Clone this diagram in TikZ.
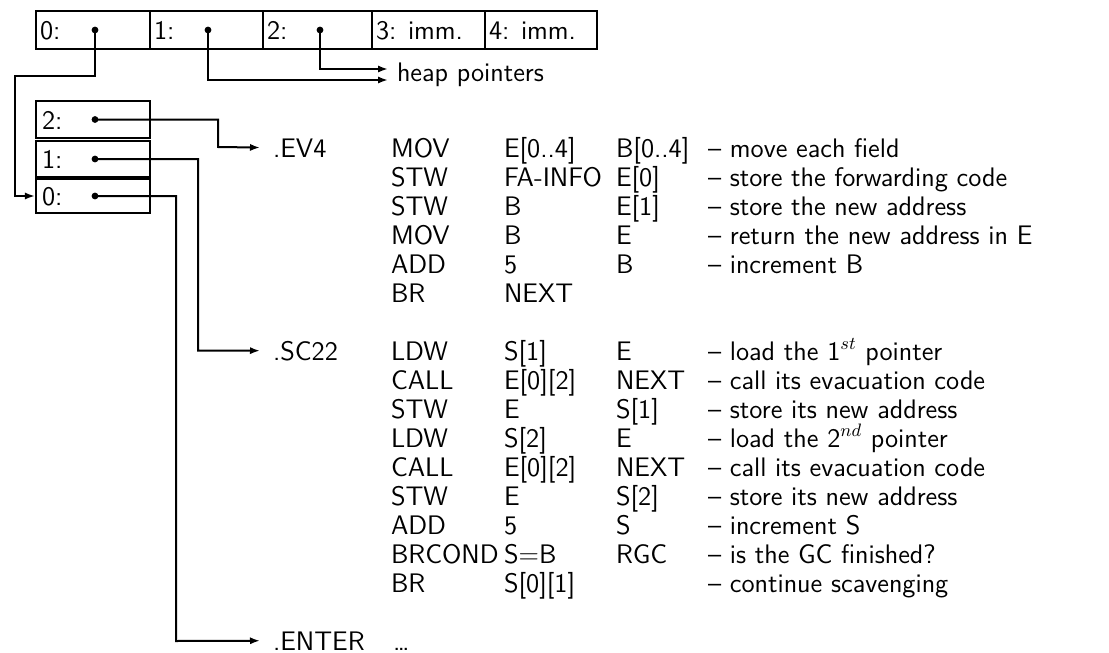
\documentclass[tikz,border=0pt]{standalone}
\usetikzlibrary{arrows.meta}
\begin{document}
\begin{tikzpicture}[x=0.5pt,y=-0.5pt,
  font=\fontsize{13.4}{16}\selectfont\sffamily,
  line width=1pt,
  box/.style={draw,line width=1.1pt,inner sep=0,minimum height=19pt},
  txt/.style={anchor=base west,inner sep=0},
  dot/.style={circle,fill,inner sep=0,minimum size=3.4pt},
  arr/.style={-{Latex[length=5pt,width=3.6pt]}}]
\useasboundingbox (0,0) rectangle (1109,653);
% top record
\node[box,minimum width=57pt] (c0) at (93,30) {};
\node[box,minimum width=56.5pt] (c1) at (206.5,30) {};
\node[box,minimum width=54.5pt] (c2) at (317.5,30) {};
\node[box,minimum width=56.5pt] (c3) at (428.5,30) {};
\node[box,minimum width=56pt] (c4) at (541,30) {};
\node[txt] (l0) at (39,39.5) {0:};
\node[txt] (l1) at (153,39.5) {1:};
\node[txt] (l2) at (266,39.5) {2:};
\node[txt] (l3) at (375,39.5) {3: imm.};
\node[txt] (l4) at (488,39.5) {4: imm.};
\node[dot] (d0) at (95,30) {};
\node[dot] (d1) at (208,30) {};
\node[dot] (d2) at (320,30) {};
\node[txt] (hp) at (396,81) {heap pointers};
\coordinate (h2) at (388,69);
\coordinate (h1) at (388,80);
\draw[arr] (d2.center) |- (h2);
\draw[arr] (d1.center) |- (h1);
% small record
\node[box,minimum width=57pt,minimum height=18.5pt] (b2) at (93,119.5) {};
\node[box,minimum width=57pt,minimum height=18pt] (b1) at (93,159) {};
\node[box,minimum width=57pt,minimum height=17pt] (b0) at (93,196) {};
\node[txt] (s2) at (41,129) {2:};
\node[txt] (s1) at (41,168.5) {1:};
\node[txt] (s0) at (41,205.5) {0:};
\node[dot] (e2) at (95,119.5) {};
\node[dot] (e1) at (95,159) {};
\node[dot] (e0) at (95,196) {};
\coordinate (k0) at (15,76);
\draw[arr] (d0.center) |- (k0) |- (b0.west);
% labels
\node[txt] (ev4) at (272,157) {.EV4};
\node[txt] (sc22) at (272,360) {.SC22};
\node[txt] (enter) at (272,650) {.ENTER};
\coordinate (m2) at (218,147);
\coordinate (m1) at (198,350.5);
\coordinate (m0) at (176,641);
\draw[arr,shorten >=6pt] (e2.center) -| (m2) -- (ev4.west);
\draw[arr,shorten >=6pt] (e1.center) -| (m1) -- (sc22.west);
\draw[arr,shorten >=6pt] (e0.center) -| (m0) -- (enter.west);
% EV4 code
\node[txt] (a0) at (390,157) {MOV};
\node[txt] (b0x) at (503,157) {E[0..4]};
\node[txt] (c0x) at (615,157) {B[0..4]};
\node[txt] (r0) at (707,157) {-- move each field};
\node[txt] (a1) at (390,186) {STW};
\node[txt] (b1x) at (503,186) {FA-INFO};
\node[txt] (c1x) at (615,186) {E[0]};
\node[txt] (r1) at (707,186) {-- store the forwarding code};
\node[txt] (a2) at (390,215) {STW};
\node[txt] (b2x) at (503,215) {B};
\node[txt] (c2x) at (615,215) {E[1]};
\node[txt] (r2) at (707,215) {-- store the new address};
\node[txt] (a3) at (390,244) {MOV};
\node[txt] (b3x) at (503,244) {B};
\node[txt] (c3x) at (615,244) {E};
\node[txt] (r3) at (707,244) {-- return the new address in E};
\node[txt] (a4) at (390,273) {ADD};
\node[txt] (b4x) at (503,273) {5};
\node[txt] (c4x) at (615,273) {B};
\node[txt] (r4) at (707,273) {-- increment B};
\node[txt] (a5) at (390,302) {BR};
\node[txt] (b5x) at (503,302) {NEXT};
% SC22 code
\node[txt] (a7) at (390,360) {LDW};
\node[txt] (b7x) at (503,360) {S[1]};
\node[txt] (c7x) at (615,360) {E};
\node[txt] (r7) at (707,360) {-- load the 1$^{st}$ pointer};
\node[txt] (a8) at (390,389) {CALL};
\node[txt] (b8x) at (503,389) {E[0][2]};
\node[txt] (c8x) at (615,389) {NEXT};
\node[txt] (r8) at (707,389) {-- call its evacuation code};
\node[txt] (a9) at (390,418) {STW};
\node[txt] (b9x) at (503,418) {E};
\node[txt] (c9x) at (615,418) {S[1]};
\node[txt] (r9) at (707,418) {-- store its new address};
\node[txt] (a10) at (390,447) {LDW};
\node[txt] (b10x) at (503,447) {S[2]};
\node[txt] (c10x) at (615,447) {E};
\node[txt] (r10) at (707,447) {-- load the 2$^{nd}$ pointer};
\node[txt] (a11) at (390,476) {CALL};
\node[txt] (b11x) at (503,476) {E[0][2]};
\node[txt] (c11x) at (615,476) {NEXT};
\node[txt] (r11) at (707,476) {-- call its evacuation code};
\node[txt] (a12) at (390,505) {STW};
\node[txt] (b12x) at (503,505) {E};
\node[txt] (c12x) at (615,505) {S[2]};
\node[txt] (r12) at (707,505) {-- store its new address};
\node[txt] (a13) at (390,534) {ADD};
\node[txt] (b13x) at (503,534) {5};
\node[txt] (c13x) at (615,534) {S};
\node[txt] (r13) at (707,534) {-- increment S};
\node[txt] (a14) at (390,563) {BRCOND};
\node[txt] (b14x) at (503,563) {S=B};
\node[txt] (c14x) at (615,563) {RGC};
\node[txt] (r14) at (707,563) {-- is the GC finished?};
\node[txt] (a15) at (390,592) {BR};
\node[txt] (b15x) at (503,592) {S[0][1]};
\node[txt] (r15) at (707,592) {-- continue scavenging};
% ENTER
\node[txt] (a17) at (392,650) {\dots};
\end{tikzpicture}
\end{document}
